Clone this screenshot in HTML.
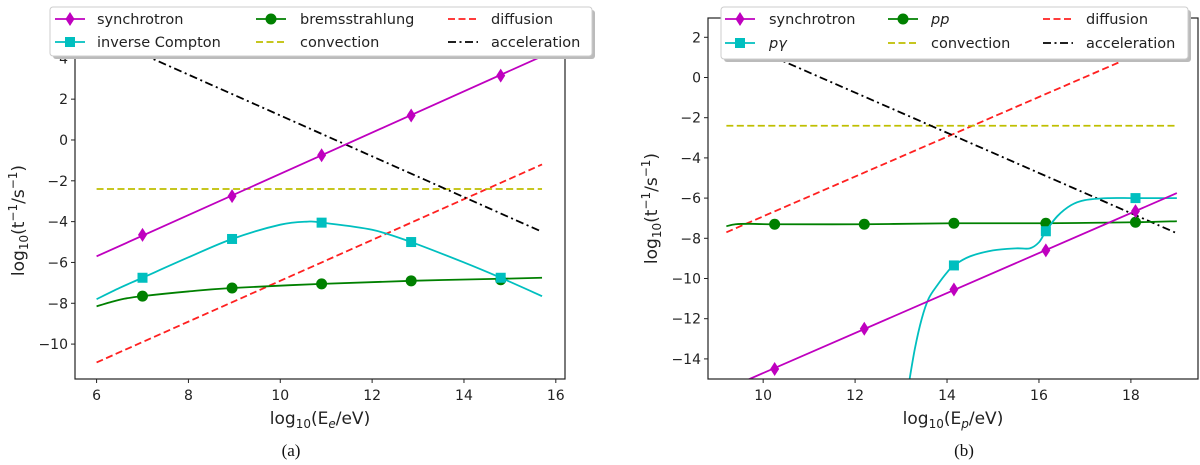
<!DOCTYPE html>
<html><head><meta charset="utf-8"><style>
html,body{margin:0;padding:0;background:#fff;}
svg{display:block;font-family:"DejaVu Sans","Liberation Sans",sans-serif;}
</style></head><body>
<svg id="fig" width="1200" height="465" viewBox="0 0 1200 465" xmlns="http://www.w3.org/2000/svg"></svg>
<script>
// ---- Panel (a) data ----
const aSyncLineX = [6, 15.7];
const aSyncLineY = [-5.7, 4.1];
const aSyncMarkX = [7, 8.95, 10.9, 12.85, 14.8];
const aSyncMarkY = [-4.65, -2.75, -0.75, 1.2, 3.15];
const aICX = [6, 6.5, 7, 8, 8.95, 10, 10.6, 10.9, 12, 12.85, 14, 14.8, 15.7];
const aICY = [-7.8, -7.25, -6.75, -5.75, -4.85, -4.15, -4.0, -4.05, -4.4, -5.0, -6.0, -6.75, -7.65];
const aICMarkX = [7, 8.95, 10.9, 12.85, 14.8];
const aICMarkY = [-6.75, -4.85, -4.05, -5.0, -6.75];
const aBremX = [6, 6.3, 6.6, 7, 8, 8.95, 10.9, 12.85, 14.8, 15.7];
const aBremY = [-8.15, -7.95, -7.78, -7.65, -7.42, -7.25, -7.05, -6.9, -6.8, -6.75];
const aBremMarkX = [7, 8.95, 10.9, 12.85, 14.8];
const aBremMarkY = [-7.65, -7.25, -7.05, -6.9, -6.85];
const aDiffX = [6, 15.7];
const aDiffY = [-10.9, -1.2];
const aConvX = [6, 15.7];
const aConvY = [-2.4, -2.4];
const aAccX = [6, 15.7];
const aAccY = [5.2, -4.5];
const aXTicks = [6, 8, 10, 12, 14, 16];
const aYTicks = [-10, -8, -6, -4, -2, 0, 2, 4];

// ---- Panel (b) data ----
const bSyncLineX = [9.2, 19];
const bSyncLineY = [-15.5, -5.75];
const bSyncMarkX = [10.25, 12.2, 14.15, 16.15, 18.1];
const bSyncMarkY = [-14.5, -12.5, -10.55, -8.6, -6.65];
const bPGX = [13.15, 13.3, 13.45, 13.6, 13.8, 14.0, 14.15, 14.5, 15.0, 15.5, 15.8, 16.0, 16.15, 16.4, 16.7, 17.0, 17.5, 18.1, 19];
const bPGY = [-15.5, -13.5, -12.0, -11.0, -10.3, -9.7, -9.35, -8.9, -8.6, -8.5, -8.5, -8.2, -7.65, -6.9, -6.35, -6.1, -6.0, -6.0, -6.0];
const bPGMarkX = [14.15, 16.15, 18.1];
const bPGMarkY = [-9.35, -7.65, -6.0];
const bPPX = [9.2, 9.4, 9.7, 10.25, 12.2, 14.15, 16.15, 18.1, 19];
const bPPY = [-7.4, -7.3, -7.28, -7.3, -7.3, -7.25, -7.25, -7.2, -7.15];
const bPPMarkX = [10.25, 12.2, 14.15, 16.15, 18.1];
const bPPMarkY = [-7.3, -7.3, -7.25, -7.25, -7.2];
const bDiffX = [9.2, 19];
const bDiffY = [-7.7, 2.0];
const bConvX = [9.2, 19];
const bConvY = [-2.4, -2.4];
const bAccX = [9.2, 19];
const bAccY = [2.05, -7.75];
const bXTicks = [10, 12, 14, 16, 18];
const bYTicks = [-14, -12, -10, -8, -6, -4, -2, 0, 2];

const NS = "http://www.w3.org/2000/svg";
const fig = document.getElementById('fig');
function mk(tag, attrs, parent) {
  const e = document.createElementNS(NS, tag);
  for (const k in attrs) e.setAttribute(k, attrs[k]);
  (parent || fig).appendChild(e);
  return e;
}
function smooth(xs, ys, sx, sy) {
  const p = xs.map((x, i) => [sx(x), sy(ys[i])]);
  let d = 'M' + p[0][0] + ',' + p[0][1];
  for (let i = 0; i < p.length - 1; i++) {
    const p0 = p[i - 1] || p[i], p1 = p[i], p2 = p[i + 1], p3 = p[i + 2] || p2;
    const c1x = p1[0] + (p2[0] - p0[0]) / 6, c1y = p1[1] + (p2[1] - p0[1]) / 6;
    const c2x = p2[0] - (p3[0] - p1[0]) / 6, c2y = p2[1] - (p3[1] - p1[1]) / 6;
    d += ' C' + c1x + ',' + c1y + ' ' + c2x + ',' + c2y + ' ' + p2[0] + ',' + p2[1];
  }
  return d;
}
function marker(g, type, cx, cy, color) {
  let m;
  if (type === 'diamond') m = mk('polygon', {points: `${cx},${cy-7} ${cx+4.5},${cy} ${cx},${cy+7} ${cx-4.5},${cy}`, fill: color}, g);
  else if (type === 'square') m = mk('rect', {x: cx-5, y: cy-5, width: 10, height: 10, fill: color}, g);
  else m = mk('circle', {cx: cx, cy: cy, r: 5.5, fill: color}, g);
  return m;
}

function panel(cfg) {
  const {L, R, T, B, xmin, xmax, ymin, ymax, id} = cfg;
  const sx = v => L + (v - xmin) / (xmax - xmin) * (R - L);
  const sy = v => B - (v - ymin) / (ymax - ymin) * (B - T);
  const g = mk('g', {});
  
  
  const clip = mk('clipPath', {id: 'clip-' + id}, g);
  mk('rect', {x: L, y: T, width: R - L, height: B - T}, clip);
  const plot = mk('g', {'clip-path': 'url(#clip-' + id + ')'}, g);
  
  
  cfg.series.forEach(s => {
    const path = mk('path', {d: smooth(s.x, s.y, sx, sy), fill: 'none', stroke: s.color, 'stroke-width': 1.8, 'stroke-dasharray': s.dash || 'none'}, plot);
    
    
    if (s.mx) s.mx.forEach((x, i) => {
      const m = marker(plot, s.marker, sx(x), sy(s.my[i]), s.color);
      
      
    });
  });
  const frame = mk('rect', {x: L, y: T, width: R - L, height: B - T, fill: 'none', stroke: '#222', 'stroke-width': 1.2}, g);
  
  
  cfg.xticks.forEach(t => {
    mk('line', {x1: sx(t), x2: sx(t), y1: B, y2: B + 4, stroke: '#222'}, g);
    const tx = mk('text', {x: sx(t), y: B + 21, 'text-anchor': 'middle', 'font-size': 14, fill: '#222'}, g);
    tx.textContent = String(t);
    
    
  });
  cfg.yticks.forEach(t => {
    mk('line', {x1: L - 4, x2: L, y1: sy(t), y2: sy(t), stroke: '#222'}, g);
    const tx = mk('text', {x: L - 7, y: sy(t) + 5, 'text-anchor': 'end', 'font-size': 14, fill: '#222'}, g);
    tx.textContent = t < 0 ? '\u2212' + (-t) : String(t);
    
    
  });
  const xl = mk('text', {x: (L + R) / 2, y: 424, 'text-anchor': 'middle', 'font-size': 17, fill: '#222'}, g);
  xl.innerHTML = 'log<tspan font-size="12" dy="4">10</tspan><tspan dy="-4">(E</tspan><tspan font-size="12" dy="4" font-style="italic">' + cfg.sub + '</tspan><tspan dy="-4">/eV)</tspan>';
  
  
  const yl = mk('text', {x: 0, y: 0, 'text-anchor': 'middle', 'font-size': 17, fill: '#222', transform: `translate(${cfg.ylx},${(T + B) / 2 + 10}) rotate(-90)`}, g);
  yl.innerHTML = 'log<tspan font-size="12" dy="4">10</tspan><tspan dy="-4">(t</tspan><tspan font-size="12" dy="-7">\u22121</tspan><tspan dy="7">/s</tspan><tspan font-size="12" dy="-7">\u22121</tspan><tspan dy="7">)</tspan>';
  
  
  const cap = mk('text', {x: cfg.capx, y: 456, 'text-anchor': 'middle', 'font-size': 17, fill: '#111', 'font-family': '"Liberation Serif",serif'}, g);
  cap.textContent = '(' + id + ')';
  
  
  const lg = mk('g', {}, g);
  
  
  const lb = cfg.legBox;
  mk('rect', {x: lb[0] + 3, y: lb[1] + 3, width: lb[2], height: lb[3], rx: 3, fill: '#bbb'}, lg);
  mk('rect', {x: lb[0], y: lb[1], width: lb[2], height: lb[3], rx: 3, fill: '#fff', stroke: '#ccc'}, lg);
  cfg.series.forEach(s => {
    const e = mk('g', {}, lg);
    
    
    const [hx, hy, tx] = s.leg;
    mk('line', {x1: hx, x2: hx + 30, y1: hy, y2: hy, stroke: s.color, 'stroke-width': 1.8, 'stroke-dasharray': s.dash || 'none'}, e);
    if (s.marker) marker(e, s.marker, hx + 15, hy, s.color);
    const t = mk('text', {x: tx, y: hy + 5, 'font-size': 14.5, fill: '#222', 'font-style': s.italic ? 'italic' : 'normal'}, e);
    t.textContent = s.label;
  });
}

panel({id: 'a', L: 75, R: 565, T: 42, B: 379, xmin: 5.53, xmax: 16.2, ymin: -11.71, ymax: 4.8,
  xticks: aXTicks, yticks: aYTicks, sub: 'e', ylx: 24, capx: 291,
  legBox: [50, 7, 542, 49],
  series: [
    {name: 'diffusion', x: aDiffX, y: aDiffY, color: '#ff2020', dash: '7,3.5', label: 'diffusion', leg: [448, 19, 491]},
    {name: 'convection', x: aConvX, y: aConvY, color: '#bfbf00', dash: '7,3.5', label: 'convection', leg: [256, 42, 300]},
    {name: 'acceleration', x: aAccX, y: aAccY, color: '#000', dash: '8,3.5,2,3.5', label: 'acceleration', leg: [448, 42, 491]},
    {name: 'bremsstrahlung', x: aBremX, y: aBremY, mx: aBremMarkX, my: aBremMarkY, marker: 'circle', color: '#008000', label: 'bremsstrahlung', leg: [256, 19, 300]},
    {name: 'inverse-compton', x: aICX, y: aICY, mx: aICMarkX, my: aICMarkY, marker: 'square', color: '#00bfbf', label: 'inverse Compton', leg: [55, 42, 97]},
    {name: 'synchrotron', x: aSyncLineX, y: aSyncLineY, mx: aSyncMarkX, my: aSyncMarkY, marker: 'diamond', color: '#bf00bf', label: 'synchrotron', leg: [55, 19, 97]}
  ]});

panel({id: 'b', L: 708, R: 1198, T: 18, B: 379, xmin: 8.8, xmax: 19.46, ymin: -15.0, ymax: 2.96,
  xticks: bXTicks, yticks: bYTicks, sub: 'p', ylx: 657, capx: 964,
  legBox: [721, 7, 467, 52],
  series: [
    {name: 'diffusion', x: bDiffX, y: bDiffY, color: '#ff2020', dash: '7,3.5', label: 'diffusion', leg: [1043, 19, 1086]},
    {name: 'convection', x: bConvX, y: bConvY, color: '#bfbf00', dash: '7,3.5', label: 'convection', leg: [888, 43, 931]},
    {name: 'acceleration', x: bAccX, y: bAccY, color: '#000', dash: '8,3.5,2,3.5', label: 'acceleration', leg: [1043, 43, 1086]},
    {name: 'pp', x: bPPX, y: bPPY, mx: bPPMarkX, my: bPPMarkY, marker: 'circle', color: '#008000', label: 'pp', italic: true, leg: [888, 19, 931]},
    {name: 'p-gamma', x: bPGX, y: bPGY, mx: bPGMarkX, my: bPGMarkY, marker: 'square', color: '#00bfbf', label: 'p\u03b3', italic: true, leg: [725, 43, 769]},
    {name: 'synchrotron', x: bSyncLineX, y: bSyncLineY, mx: bSyncMarkX, my: bSyncMarkY, marker: 'diamond', color: '#bf00bf', label: 'synchrotron', leg: [725, 19, 769]}
  ]});
</script>
</body></html>
